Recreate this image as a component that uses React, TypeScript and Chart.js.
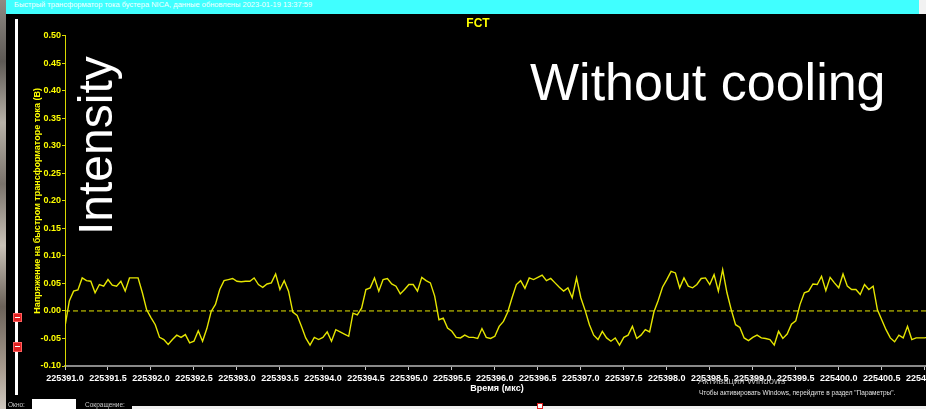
import React, { useEffect, useRef } from 'react';
import { Chart, registerables } from 'chart.js';

Chart.register(...registerables);

const windowCaption = 'Быстрый трансформатор тока бустера NICA, данные обновлены 2023-01-19 13:37:59';
const chartTitle = 'FCT';
const yAxisTitle = 'Напряжение на быстром трансформаторе тока (В)';
const xAxisTitle = 'Время (мкс)';
const noteLeft = 'Intensity';
const noteRight = 'Without cooling';
const watermarkTitle = 'Активация Windows';
const watermarkText = 'Чтобы активировать Windows, перейдите в раздел "Параметры".';
const footerWindow = 'Окно:';
const footerReduce = 'Сокращение:';

const yTickLabels = ['-0.10', '-0.05', '0.00', '0.05', '0.10', '0.15', '0.20', '0.25', '0.30', '0.35', '0.40', '0.45', '0.50'];
const xTickLabels = [
  '225391.0', '225391.5', '225392.0', '225392.5', '225393.0', '225393.5', '225394.0',
  '225394.5', '225395.0', '225395.5', '225396.0', '225396.5', '225397.0', '225397.5',
  '225398.0', '225398.5', '225399.0', '225399.5', '225400.0', '225400.5', '225401.0',
];
const xAxisMin = 225391.0;
const xAxisMax = 225401.05;
const yAxisMin = -0.1;
const yAxisMax = 0.5;

// sampled signal: first sample time and sampling interval (µs)
const sampleStart = 225391.0;
const sampleStep = 0.05;
const signalValues = [
  -0.028, 0.018, 0.036, 0.038, 0.060, 0.055, 0.054, 0.033, 0.048, 0.045,
  0.057, 0.047, 0.045, 0.054, 0.036, 0.060, 0.060, 0.060, 0.033, 0.002,
  -0.012, -0.025, -0.048, -0.052, -0.061, -0.052, -0.044, -0.048, -0.043, -0.058,
  -0.055, -0.036, -0.055, -0.032, -0.001, 0.012, 0.039, 0.055, 0.057, 0.059,
  0.054, 0.053, 0.054, 0.054, 0.060, 0.048, 0.043, 0.049, 0.051, 0.067,
  0.039, 0.055, 0.036, -0.002, -0.008, -0.028, -0.049, -0.062, -0.048, -0.052,
  -0.048, -0.038, -0.055, -0.034, -0.038, -0.042, -0.046, -0.004, -0.007, 0.005,
  0.039, 0.042, 0.060, 0.036, 0.057, 0.059, 0.049, 0.045, 0.031, 0.039,
  0.048, 0.048, 0.036, 0.061, 0.055, 0.051, 0.027, -0.016, -0.013, -0.031,
  -0.037, -0.048, -0.049, -0.044, -0.048, -0.048, -0.050, -0.032, -0.048, -0.050,
  -0.046, -0.028, -0.019, -0.002, 0.024, 0.048, 0.055, 0.041, 0.060, 0.057,
  0.061, 0.065, 0.055, 0.059, 0.051, 0.043, 0.036, 0.042, 0.024, 0.060,
  0.024, 0.001, -0.025, -0.044, -0.052, -0.037, -0.049, -0.055, -0.049, -0.062,
  -0.048, -0.044, -0.028, -0.050, -0.044, -0.034, -0.038, -0.002, 0.019, 0.043,
  0.057, 0.072, 0.069, 0.042, 0.060, 0.045, 0.042, 0.048, 0.059, 0.060,
  0.048, 0.066, 0.036, 0.075, 0.033, 0.002, -0.025, -0.030, -0.049, -0.054,
  -0.048, -0.044, -0.049, -0.050, -0.052, -0.062, -0.037, -0.050, -0.042, -0.024,
  -0.018, 0.012, 0.033, 0.036, 0.049, 0.048, 0.063, 0.037, 0.061, 0.051,
  0.042, 0.067, 0.045, 0.039, 0.039, 0.030, 0.048, 0.039, 0.045, 0.002,
  -0.016, -0.034, -0.049, -0.056, -0.044, -0.049, -0.028, -0.052, -0.049, -0.049,
  -0.049, -0.047,
];
const zeroLevel = 0;

const FONT = '"Liberation Sans", Arial, sans-serif';
const YELLOW = '#ffff00';
const LINE_YELLOW = '#e6e600';

function FctChart() {
  const ref = useRef<HTMLCanvasElement | null>(null);
  useEffect(() => {
    const canvas = ref.current;
    if (!canvas) return;
    Chart.defaults.font.family = FONT;
    const points = signalValues.map((v, i) => ({ x: sampleStart + i * sampleStep, y: v }));
    const zeroLine = [
      { x: xAxisMin, y: zeroLevel },
      { x: xAxisMax, y: zeroLevel },
    ];
    const chart = new Chart(canvas, {
      type: 'line',
      data: {
        datasets: [
          {
            data: points,
            borderColor: LINE_YELLOW,
            borderWidth: 1.4,
            pointRadius: 0,
            tension: 0,
            order: 0,
          },
          {
            data: zeroLine,
            borderColor: LINE_YELLOW,
            borderWidth: 1,
            borderDash: [5, 3],
            pointRadius: 0,
            tension: 0,
            order: 1,
          },
        ],
      },
      options: {
        animation: false,
        responsive: false,
        maintainAspectRatio: false,
        devicePixelRatio: 1,
        layout: { padding: { top: 21.7, right: 31, left: 0, bottom: 0 } },
        plugins: {
          legend: { display: false },
          tooltip: { enabled: false },
          title: { display: false },
        },
        scales: {
          x: {
            type: 'linear',
            min: xAxisMin,
            max: xAxisMax,
            afterFit: (s: any) => {
              s.height = 38;
            },
            afterBuildTicks: (s: any) => {
              s.ticks = xTickLabels.map((l) => ({ value: parseFloat(l) }));
            },
            ticks: {
              color: '#ffffff',
              font: { size: 9, weight: 'bold' },
              padding: 3,
              maxRotation: 0,
              autoSkip: false,
              callback: (_v: any, i: number) => xTickLabels[i],
            },
            grid: {
              drawOnChartArea: false,
              drawTicks: true,
              tickLength: 4,
              tickColor: '#c8c8c8',
              tickWidth: 1,
            },
            border: { color: '#8a8a8a', width: 2 },
            title: {
              display: true,
              text: xAxisTitle,
              color: '#ffffff',
              font: { size: 9, weight: 'bold' },
              padding: { top: 0, bottom: 9.6 },
            },
          },
          y: {
            type: 'linear',
            min: yAxisMin,
            max: yAxisMax,
            afterFit: (s: any) => {
              s.width = 65;
            },
            afterBuildTicks: (s: any) => {
              s.ticks = yTickLabels.map((l) => ({ value: parseFloat(l) }));
            },
            ticks: {
              color: YELLOW,
              font: { size: 9, weight: 'bold' },
              padding: 1,
              autoSkip: false,
              callback: (_v: any, i: number) => yTickLabels[i],
            },
            grid: {
              drawOnChartArea: false,
              drawTicks: true,
              tickLength: 3,
              tickColor: '#d8d800',
              tickWidth: 1,
            },
            border: { color: '#d8d800', width: 1 },
            title: {
              display: true,
              text: yAxisTitle,
              color: YELLOW,
              font: { size: 9, weight: 'bold' },
              padding: { top: 32.6, bottom: 0 },
            },
          },
        },
      },
    } as any);
    return () => chart.destroy();
  }, []);
  return (
    <canvas
      ref={ref}
      width={960}
      height={390}
      style={{ position: 'absolute', left: 0, top: 14, width: 960, height: 390 }}
    />
  );
}

export default function App() {
  const abs = (s: React.CSSProperties): React.CSSProperties => ({ position: 'absolute', ...s });
  return (
    <div
      style={{
        position: 'fixed',
        left: 0,
        top: 0,
        width: 926,
        height: 409,
        overflow: 'hidden',
        background: '#000',
        fontFamily: FONT,
      }}
    >
      <FctChart />
      {/* left photo strip */}
      <div
        style={abs({
          left: 0,
          top: 0,
          width: 6,
          height: 409,
          background:
            'linear-gradient(180deg,#8f8a84 0%,#5e5a55 15%,#b8b2a8 30%,#7a736b 45%,#c9c2b7 60%,#6b6259 75%,#a79b8e 90%,#d0c9c0 100%)',
        })}
      />
      {/* top caption bar */}
      <div style={abs({ left: 6, top: 0, width: 913, height: 14, background: '#40ffff', overflow: 'hidden' })}>
        <div style={abs({ left: 8, top: 1, fontSize: 7.5, lineHeight: '8px', color: '#f4ffff', whiteSpace: 'nowrap' })}>
          {windowCaption}
        </div>
      </div>
      <div style={abs({ left: 919, top: 0, width: 7, height: 14, background: '#f2f2f2' })} />
      {/* left slider */}
      <div style={abs({ left: 15, top: 19, width: 3, height: 376, background: '#ffffff' })} />
      <div style={abs({ left: 13, top: 313, width: 7, height: 7, background: '#e02020', border: '1px solid #ff6060' })}>
        <div style={abs({ left: 1, top: 3, width: 5, height: 1, background: '#fff' })} />
      </div>
      <div style={abs({ left: 13, top: 342, width: 7, height: 8, background: '#e02020', border: '1px solid #ff6060' })}>
        <div style={abs({ left: 1, top: 3, width: 5, height: 1, background: '#fff' })} />
      </div>
      {/* chart title */}
      <div
        style={abs({
          left: 478,
          top: 16.5,
          transform: 'translateX(-50%)',
          fontSize: 12,
          lineHeight: '12px',
          fontWeight: 'bold',
          color: YELLOW,
          whiteSpace: 'nowrap',
        })}
      >
        {chartTitle}
      </div>
      {/* big annotations */}
      <div
        style={abs({
          left: 72,
          top: 235,
          transform: 'rotate(-90deg)',
          transformOrigin: 'left top',
          fontSize: 48,
          lineHeight: '48px',
          color: '#ffffff',
          whiteSpace: 'nowrap',
        })}
      >
        {noteLeft}
      </div>
      <div style={abs({ left: 530, top: 56, fontSize: 52, lineHeight: '52px', color: '#ffffff', whiteSpace: 'nowrap' })}>
        {noteRight}
      </div>
      {/* windows watermark */}
      <div style={abs({ left: 698, top: 376, fontSize: 9.5, lineHeight: '10px', color: '#b4b4b4', whiteSpace: 'nowrap' })}>
        {watermarkTitle}
      </div>
      <div style={abs({ left: 699, top: 389, fontSize: 6.5, lineHeight: '7px', color: '#e0e0e0', whiteSpace: 'nowrap' })}>
        {watermarkText}
      </div>
      {/* footer */}
      <div style={abs({ left: 8, top: 401, fontSize: 6.5, lineHeight: '7px', color: '#c8c8c8', whiteSpace: 'nowrap' })}>
        {footerWindow}
      </div>
      <div style={abs({ left: 32, top: 399, width: 44, height: 10, background: '#ffffff' })} />
      <div style={abs({ left: 85, top: 401, fontSize: 6.5, lineHeight: '7px', color: '#c8c8c8', whiteSpace: 'nowrap' })}>
        {footerReduce}
      </div>
      <div style={abs({ left: 132, top: 406, width: 794, height: 3, background: '#f0f0f0' })} />
      <div style={abs({ left: 537, top: 403, width: 6, height: 6, background: '#e02020' })}>
        <div style={abs({ left: 1, top: 1, width: 4, height: 4, background: '#fff' })} />
      </div>
    </div>
  );
}
